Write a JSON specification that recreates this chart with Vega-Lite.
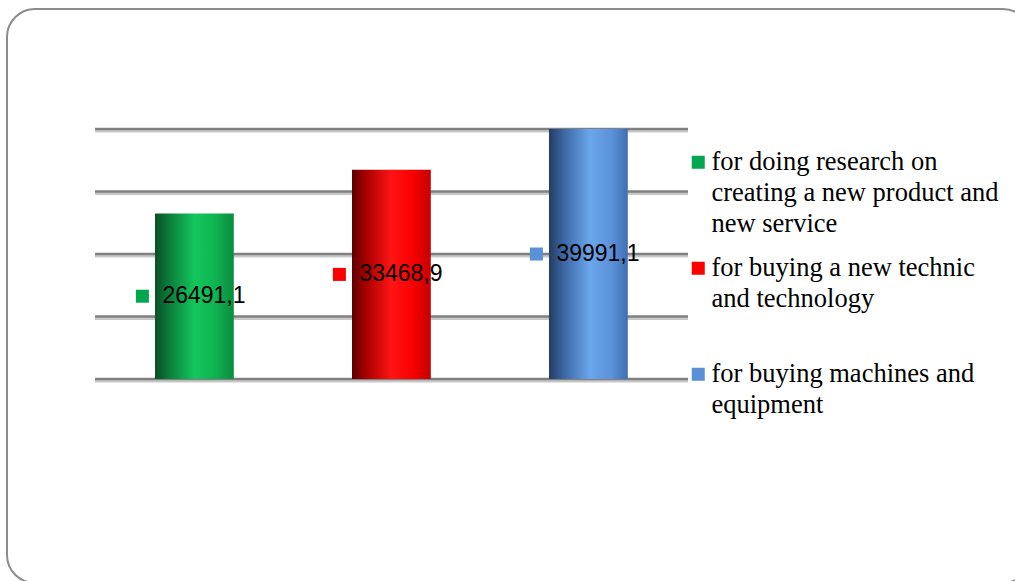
{
  "$schema": "https://vega.github.io/schema/vega-lite/v6.json",
  "width": 1024,
  "height": 574,
  "padding": {"left": 7, "top": 9, "right": 0, "bottom": 0},
  "autosize": {"type": "none"},
  "background": "white",
  "config": {
    "view": {"stroke": "#8c8c8c", "strokeWidth": 2, "cornerRadius": 28, "fill": "white"},
    "locale": {"number": {"decimal": ",", "thousands": " ", "grouping": [3], "currency": ["", ""]}},
    "style": {"guide-label": {"lineHeight": 31}}
  },
  "datasets": {
    "spend": [
      {"key": "research", "label": "for doing research on|creating a new product and|new service", "value": 26491.1},
      {"key": "technic", "label": "\u2002for buying a new technic|and technology|", "value": 33468.9},
      {"key": "machines", "label": "for buying machines and|equipment", "value": 39991.1}
    ],
    "grid": [{"v": 0}, {"v": 10000}, {"v": 20000}, {"v": 30000}, {"v": 40000}]
  },
  "layer": [
    {
      "data": {"name": "grid"},
      "mark": {"type": "rule", "color": "#c8c8c8", "strokeWidth": 3, "yOffset": 2},
      "encoding": {
        "x": {"datum": "research", "bandPosition": -0.761, "type": "nominal", "axis": null,
              "scale": {"domain": ["research", "technic", "machines"], "range": [148, 620.8], "paddingInner": 0.6, "paddingOuter": 0}},
        "x2": {"datum": "machines", "bandPosition": 1.764},
        "y": {"field": "v", "type": "quantitative", "axis": null, "scale": {"domain": [-32640, 59200], "nice": false, "zero": false}}
      }
    },
    {
      "data": {"name": "grid"},
      "mark": {"type": "rule", "color": "#808080", "strokeWidth": 2.5},
      "encoding": {
        "x": {"datum": "research", "bandPosition": -0.761, "type": "nominal", "axis": null},
        "x2": {"datum": "machines", "bandPosition": 1.764},
        "y": {"field": "v", "type": "quantitative", "axis": null}
      }
    },
    {
      "data": {"name": "spend"},
      "transform": [{"filter": "datum.key == 'research'"}],
      "mark": {"type": "bar", "color": {"gradient": "linear", "x1": 0, "x2": 1, "y1": 0, "y2": 0,
        "stops": [{"offset": 0, "color": "#0a4f26"}, {"offset": 0.18, "color": "#0b7d3a"}, {"offset": 0.5, "color": "#13c65c"}, {"offset": 0.75, "color": "#0fb552"}, {"offset": 1, "color": "#0a8c40"}]}},
      "encoding": {
        "x": {"field": "key", "type": "nominal", "axis": null},
        "y": {"field": "value", "type": "quantitative", "axis": null}
      }
    },
    {
      "data": {"name": "spend"},
      "transform": [{"filter": "datum.key == 'technic'"}],
      "mark": {"type": "bar", "color": {"gradient": "linear", "x1": 0, "x2": 1, "y1": 0, "y2": 0,
        "stops": [{"offset": 0, "color": "#5e0000"}, {"offset": 0.18, "color": "#a80000"}, {"offset": 0.5, "color": "#ff1414"}, {"offset": 0.78, "color": "#f70000"}, {"offset": 1, "color": "#c40000"}]}},
      "encoding": {
        "x": {"field": "key", "type": "nominal", "axis": null},
        "y": {"field": "value", "type": "quantitative", "axis": null}
      }
    },
    {
      "data": {"name": "spend"},
      "transform": [{"filter": "datum.key == 'machines'"}],
      "mark": {"type": "bar", "color": {"gradient": "linear", "x1": 0, "x2": 1, "y1": 0, "y2": 0,
        "stops": [{"offset": 0, "color": "#233d62"}, {"offset": 0.18, "color": "#3a66a2"}, {"offset": 0.52, "color": "#6aa6ec"}, {"offset": 0.8, "color": "#5b91da"}, {"offset": 1, "color": "#3f6fb0"}]}},
      "encoding": {
        "x": {"field": "key", "type": "nominal", "axis": null},
        "y": {"field": "value", "type": "quantitative", "axis": null}
      }
    },
    {
      "data": {"name": "spend"},
      "transform": [{"calculate": "datum.value / 2", "as": "mid"}],
      "mark": {"type": "point", "shape": "square", "filled": true, "opacity": 1, "size": 169, "strokeWidth": 0, "xOffset": -52},
      "encoding": {
        "x": {"field": "key", "type": "nominal", "axis": null},
        "y": {"field": "mid", "type": "quantitative", "axis": null},
        "color": {
          "field": "label", "type": "nominal",
          "scale": {"domain": ["for doing research on|creating a new product and|new service", "\u2002for buying a new technic|and technology|", "for buying machines and|equipment"],
                    "range": ["#00a650", "#ff0000", "#5b8fd6"]},
          "legend": {
            "orient": "none", "legendX": 678, "legendY": 148, "title": null, "padding": 0,
            "labelExpr": "split(datum.label, '|')",
            "labelFont": "Liberation Serif", "labelFontSize": 26.5, "labelColor": "black", "labelLimit": 500,
            "labelBaseline": "alphabetic", "labelOffset": 0,
            "symbolType": "M-1,-2.23L1,-2.23L1,-0.23L-1,-0.23Z", "symbolSize": 169, "symbolStrokeWidth": 0, "symbolOpacity": 1,
            "rowPadding": 17
          }
        }
      }
    },
    {
      "data": {"name": "spend"},
      "transform": [{"calculate": "datum.value / 2", "as": "mid"}],
      "mark": {"type": "text", "align": "left", "baseline": "middle", "dx": -32, "font": "Liberation Sans", "fontSize": 23, "color": "black"},
      "encoding": {
        "x": {"field": "key", "type": "nominal", "axis": null},
        "y": {"field": "mid", "type": "quantitative", "axis": null},
        "text": {"field": "value", "type": "quantitative", "format": ".1f"}
      }
    }
  ]
}
